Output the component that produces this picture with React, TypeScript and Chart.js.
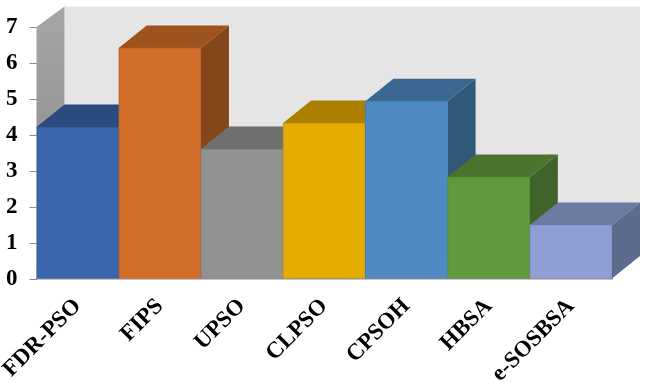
import React, { useEffect, useRef } from "react";
import { Chart, registerables } from "chart.js";

Chart.register(...registerables);

const categories = ["FDR-PSO", "FIPS", "UPSO", "CLPSO", "CPSOH", "HBSA", "e-SOSBSA"];
const values = [4.22, 6.42, 3.61, 4.33, 4.94, 2.83, 1.5];
const frontColors = ["#3a64ac", "#d36e2a", "#929292", "#e5ab00", "#4e89c3", "#609a3e", "#8f9fd5"];
const borderColors = ["#355c9e", "#b9642a", "#858585", "#cc9a06", "#467cb0", "#578c38", "#8292c2"];
const topColors = ["#2b4a80", "#9e531c", "#6f6f6f", "#ab8000", "#3a6892", "#4a732f", "#6b7aa1"];
const sideColors = ["#264270", "#84471a", "#606060", "#8f6c00", "#305878", "#3f6328", "#5d6b8e"];

const DX = 28;
const DY = 22.5;
const FONT = "'Liberation Serif', serif";

function poly(ctx: CanvasRenderingContext2D, pts: number[][], fill: string | CanvasGradient) {
  ctx.fillStyle = fill;
  ctx.beginPath();
  pts.forEach((p, i) => (i ? ctx.lineTo(p[0], p[1]) : ctx.moveTo(p[0], p[1])));
  ctx.closePath();
  ctx.fill();
}

const depthPlugin = {
  id: "depth",
  beforeDatasetsDraw(chart: any) {
    const { ctx, chartArea: a } = chart;
    const { left: l, right: r, top: t, bottom: b } = a;
    ctx.save();
    // back wall
    poly(ctx, [[l + DX, t - DY + 2], [r + DX, t - DY + 2], [r + DX, b - DY], [l + DX, b - DY]], "#e5e5e5");
    // side wall
    const g = ctx.createLinearGradient(0, t - DY, 0, b);
    g.addColorStop(0, "#a6a6a6");
    g.addColorStop(1, "#858585");
    poly(ctx, [[l, t], [l + DX, t - DY + 2], [l + DX, b - DY], [l, b]], g);
    // bar depth faces, left to right
    const meta = chart.getDatasetMeta(0);
    meta.data.forEach((el: any, i: number) => {
      const x0 = el.x - el.width / 2;
      const x1 = el.x + el.width / 2;
      const y = el.y;
      const base = el.base;
      poly(ctx, [[x1, y], [x1 + DX, y - DY], [x1 + DX, base - DY], [x1, base]], sideColors[i]);
      poly(ctx, [[x0, y], [x1, y], [x1 + DX, y - DY], [x0 + DX, y - DY]], topColors[i]);
    });
    ctx.restore();
  },
};

export default function App() {
  const ref = useRef<HTMLCanvasElement>(null);
  useEffect(() => {
    const chart = new Chart(ref.current as HTMLCanvasElement, {
      type: "bar",
      data: {
        labels: categories,
        datasets: [
          {
            data: values,
            backgroundColor: frontColors,
            borderColor: borderColors,
            borderWidth: 1,
            barPercentage: 1,
            categoryPercentage: 1,
          },
        ],
      },
      plugins: [depthPlugin],
      options: {
        responsive: false,
        animation: false,
        layout: { padding: { top: 27, right: 34, left: 0, bottom: 0 } },
        plugins: { legend: { display: false }, tooltip: { enabled: false } },
        scales: {
          x: {
            grid: { display: false },
            border: { color: "#8c8c8c", width: 1.5 },
            afterFit(s: any) {
              s.height = 104;
              s.paddingLeft = 0;
              s.paddingRight = 0;
            },
            ticks: {
              color: "#000",
              font: { family: FONT, size: 23, weight: "bold" },
              minRotation: 45,
              maxRotation: 45,
              autoSkip: false,
              padding: 6,
            },
          },
          y: {
            min: 0,
            max: 7,
            afterFit(s: any) {
              s.width = 36.5;
            },
            grid: { drawOnChartArea: false, color: "#8c8c8c", tickLength: 7, lineWidth: 1 },
            border: { display: false },
            ticks: {
              stepSize: 1,
              color: "#000",
              padding: 12,
              font: { family: FONT, size: 23, weight: "bold" },
            },
          },
        },
      },
    } as any);
    return () => chart.destroy();
  }, []);
  return (
    <div style={{ position: "absolute", left: 0, top: 0, width: 646, height: 383, background: "#fff" }}>
      <canvas ref={ref} width={646} height={383} style={{ display: "block" }} />
    </div>
  );
}
